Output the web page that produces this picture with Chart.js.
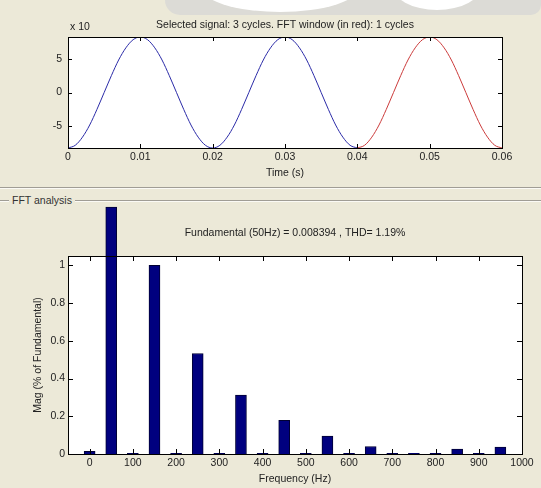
<!DOCTYPE html>
<html>
<head>
<meta charset="utf-8">
<script src="https://cdn.jsdelivr.net/npm/chart.js@4"></script>
<style>
  body { margin: 0; background: #ece9d8; font-family: "Liberation Sans", Arial, sans-serif; }
  #page { position: relative; width: 541px; height: 488px; overflow: hidden; background: #ece9d8; }
  #sigWrap { position: absolute; left: 0; top: 0; width: 541px; height: 185px; }
  #fftWrap { position: absolute; left: 0; top: 190px; width: 541px; height: 298px; }
  .sep { position: absolute; left: 0; width: 541px; height: 1px; background: #a09d95; border-bottom: 1px solid #fbfaf5; }
  #panelTitle { position: absolute; left: 9px; top: 193px; padding: 0 3px; background: #ece9d8; font-size: 10.5px; color: #333; line-height: 14px; }
  .wm { position: absolute; background: #dcdbd6; }
  .wmHole { position: absolute; background: #ffffff; border-radius: 50%; }
</style>
</head>
<body>
<div id="page">
  <div class="wm" style="left:165px; top:0; width:376px; height:15px; border-radius:0 0 40px 60px;"></div>
  <div class="wmHole" style="left:200px; top:-40px; width:160px; height:52px;"></div>
  <div class="wmHole" style="left:392px; top:-40px; width:90px; height:50px;"></div>
  <div class="sep" style="top:187px;"></div>
  <div class="sep" style="top:200px;"></div>
  <div id="panelTitle">FFT analysis</div>
  <div id="sigWrap"><canvas id="sigChart"></canvas></div>
  <div id="fftWrap"><canvas id="fftChart"></canvas></div>
</div>
<script>
// signal samples (1 ms apart), values in units of x10
const timeS = [0, 0.001, 0.002, 0.003, 0.004, 0.005, 0.006, 0.007, 0.008, 0.009,
  0.010, 0.011, 0.012, 0.013, 0.014, 0.015, 0.016, 0.017, 0.018, 0.019,
  0.020, 0.021, 0.022, 0.023, 0.024, 0.025, 0.026, 0.027, 0.028, 0.029,
  0.030, 0.031, 0.032, 0.033, 0.034, 0.035, 0.036, 0.037, 0.038, 0.039,
  0.040, 0.041, 0.042, 0.043, 0.044, 0.045, 0.046, 0.047, 0.048, 0.049,
  0.050, 0.051, 0.052, 0.053, 0.054, 0.055, 0.056, 0.057, 0.058, 0.059, 0.060];
const signal = [-8.2, -7.8, -6.6, -4.8, -2.5, 0, 2.5, 4.8, 6.6, 7.8,
  8.2, 7.8, 6.6, 4.8, 2.5, 0, -2.5, -4.8, -6.6, -7.8,
  -8.2, -7.8, -6.6, -4.8, -2.5, 0, 2.5, 4.8, 6.6, 7.8,
  8.2, 7.8, 6.6, 4.8, 2.5, 0, -2.5, -4.8, -6.6, -7.8,
  -8.2, -7.8, -6.6, -4.8, -2.5, 0, 2.5, 4.8, 6.6, 7.8,
  8.2, 7.8, 6.6, 4.8, 2.5, 0, -2.5, -4.8, -6.6, -7.8, -8.2];
const fftStart = 40; // index where the FFT window begins
const timeTicks = [0, 0.01, 0.02, 0.03, 0.04, 0.05, 0.06];
const timeTickLabels = ['0', '0.01', '0.02', '0.03', '0.04', '0.05', '0.06'];
const sigTicks = [-5, 0, 5];
const sigTickLabels = ['-5', '0', '5'];

// harmonic magnitudes
const freqHz = [0, 50, 100, 150, 200, 250, 300, 350, 400, 450, 500, 550, 600, 650, 700, 750, 800, 850, 900, 950];
const magPct = [0.014, 1.31, 0.003, 1.0, 0.003, 0.533, 0.003, 0.312, 0.003, 0.178,
  0.003, 0.095, 0.003, 0.04, 0.003, 0.004, 0.003, 0.026, 0.003, 0.037];
const freqTicks = [0, 100, 200, 300, 400, 500, 600, 700, 800, 900, 1000];
const freqTickLabels = ['0', '100', '200', '300', '400', '500', '600', '700', '800', '900', '1000'];
const magTicks = [0, 0.2, 0.4, 0.6, 0.8, 1];
const magTickLabels = ['0', '0.2', '0.4', '0.6', '0.8', '1'];

const FAMILY = '"Liberation Sans", Arial, sans-serif';
const FONT = { family: FAMILY, size: 10.5 };
Chart.defaults.color = '#222';

// MATLAB style box with inward ticks on all four sides
const boxTicks = {
  id: 'boxTicks',
  afterDraw(chart, args, opts) {
    const { ctx, chartArea: a, scales } = chart;
    const len = opts.len || 5;
    ctx.save();
    ctx.strokeStyle = '#000';
    ctx.lineWidth = 1;
    ctx.beginPath();
    scales.x.ticks.forEach(t => {
      const px = Math.round(scales.x.getPixelForValue(t.value)) + 0.5;
      ctx.moveTo(px, a.bottom); ctx.lineTo(px, a.bottom - len);
      ctx.moveTo(px, a.top); ctx.lineTo(px, a.top + len);
    });
    scales.y.ticks.forEach(t => {
      const py = Math.round(scales.y.getPixelForValue(t.value)) + 0.5;
      ctx.moveTo(a.left, py); ctx.lineTo(a.left + len, py);
      ctx.moveTo(a.right, py); ctx.lineTo(a.right - len, py);
    });
    ctx.stroke();
    ctx.strokeRect(Math.round(a.left) + 0.5, Math.round(a.top) + 0.5,
      Math.round(a.right - a.left), Math.round(a.bottom - a.top));
    ctx.restore();
  }
};

// white axes background
const whiteArea = {
  id: 'whiteArea',
  beforeDraw(chart) {
    const { ctx, chartArea: a } = chart;
    ctx.save();
    ctx.fillStyle = '#fff';
    ctx.fillRect(a.left, a.top, a.right - a.left, a.bottom - a.top);
    ctx.restore();
  }
};

// titles above the axes
const headText = {
  id: 'headText',
  afterDraw(chart, args, opts) {
    const { ctx, chartArea: a } = chart;
    ctx.save();
    ctx.font = '10.5px ' + FAMILY;
    ctx.fillStyle = '#222';
    ctx.textBaseline = 'middle';
    ctx.textAlign = 'center';
    ctx.fillText(opts.text, (a.left + a.right) / 2, a.top - opts.dy);
    if (opts.exp) {
      ctx.textAlign = 'left';
      ctx.fillText(opts.exp, a.left + 2, a.top - 10);
    }
    ctx.restore();
  }
};

function fixTicks(values) {
  return scale => { scale.ticks = values.map(v => ({ value: v })); };
}

function labelFrom(values, labels) {
  return v => labels[values.indexOf(v)];
}

new Chart(document.getElementById('sigChart'), {
  type: 'line',
  data: {
    datasets: [
      {
        data: timeS.slice(0, fftStart + 1).map((t, i) => ({ x: t, y: signal[i] })),
        borderColor: '#2b2ba8',
        borderWidth: 1,
        pointRadius: 0,
        cubicInterpolationMode: 'monotone'
      },
      {
        data: timeS.slice(fftStart).map((t, i) => ({ x: t, y: signal[fftStart + i] })),
        borderColor: '#cc3b3b',
        borderWidth: 1,
        pointRadius: 0,
        cubicInterpolationMode: 'monotone'
      }
    ]
  },
  options: {
    responsive: true,
    maintainAspectRatio: false,
    animation: false,
    layout: { padding: { left: 0, right: 39, top: 37, bottom: 0 } },
    plugins: {
      legend: { display: false },
      tooltip: { enabled: false },
      boxTicks: { len: 4 },
      headText: { text: 'Selected signal: 3 cycles. FFT window (in red): 1 cycles', dy: 12, exp: 'x 10' }
    },
    scales: {
      x: {
        type: 'linear', min: 0, max: 0.06,
        grid: { display: false, drawTicks: false, tickLength: 0 },
        border: { display: false },
        afterBuildTicks: fixTicks(timeTicks),
        afterFit: s => { s.height = 37; },
        ticks: { font: FONT, padding: 3, maxRotation: 0, callback: labelFrom(timeTicks, timeTickLabels) },
        title: { display: true, text: 'Time (s)', font: FONT, padding: { top: 0, bottom: 6 } }
      },
      y: {
        min: -8.2, max: 8.2,
        grid: { display: false, drawTicks: false, tickLength: 0 },
        border: { display: false },
        afterBuildTicks: fixTicks(sigTicks),
        afterFit: s => { s.width = 68; },
        ticks: { font: FONT, padding: 6, callback: labelFrom(sigTicks, sigTickLabels) }
      }
    }
  },
  plugins: [whiteArea, boxTicks, headText]
});

new Chart(document.getElementById('fftChart'), {
  type: 'bar',
  data: {
    datasets: [{
      data: freqHz.map((f, i) => ({ x: f, y: magPct[i] })),
      backgroundColor: '#00007f',
      borderColor: '#000033',
      borderWidth: 1,
      barThickness: 11,
      clip: false
    }]
  },
  options: {
    responsive: true,
    maintainAspectRatio: false,
    animation: false,
    layout: { padding: { left: 0, right: 19, top: 66, bottom: 0 } },
    plugins: {
      legend: { display: false },
      tooltip: { enabled: false },
      boxTicks: { len: 5 },
      headText: { text: 'Fundamental (50Hz) = 0.008394 , THD= 1.19%', dy: 23 }
    },
    scales: {
      x: {
        type: 'linear', min: -50, max: 1000,
        offset: false,
        grid: { display: false, drawTicks: false, tickLength: 0 },
        border: { display: false },
        afterBuildTicks: fixTicks(freqTicks),
        afterFit: s => { s.height = 34; },
        ticks: { font: FONT, padding: 3, maxRotation: 0, callback: labelFrom(freqTicks, freqTickLabels) },
        title: { display: true, text: 'Frequency (Hz)', font: FONT, padding: { top: 0, bottom: 3 } }
      },
      y: {
        min: 0, max: 1.05,
        grid: { display: false, drawTicks: false, tickLength: 0 },
        border: { display: false },
        afterBuildTicks: fixTicks(magTicks),
        afterFit: s => { s.width = 68; },
        ticks: { font: FONT, padding: 3, callback: labelFrom(magTicks, magTickLabels) },
        title: { display: true, text: 'Mag (% of Fundamental)', font: FONT, padding: { top: 32, bottom: 0 } }
      }
    }
  },
  plugins: [whiteArea, boxTicks, headText]
});
</script>
</body>
</html>
